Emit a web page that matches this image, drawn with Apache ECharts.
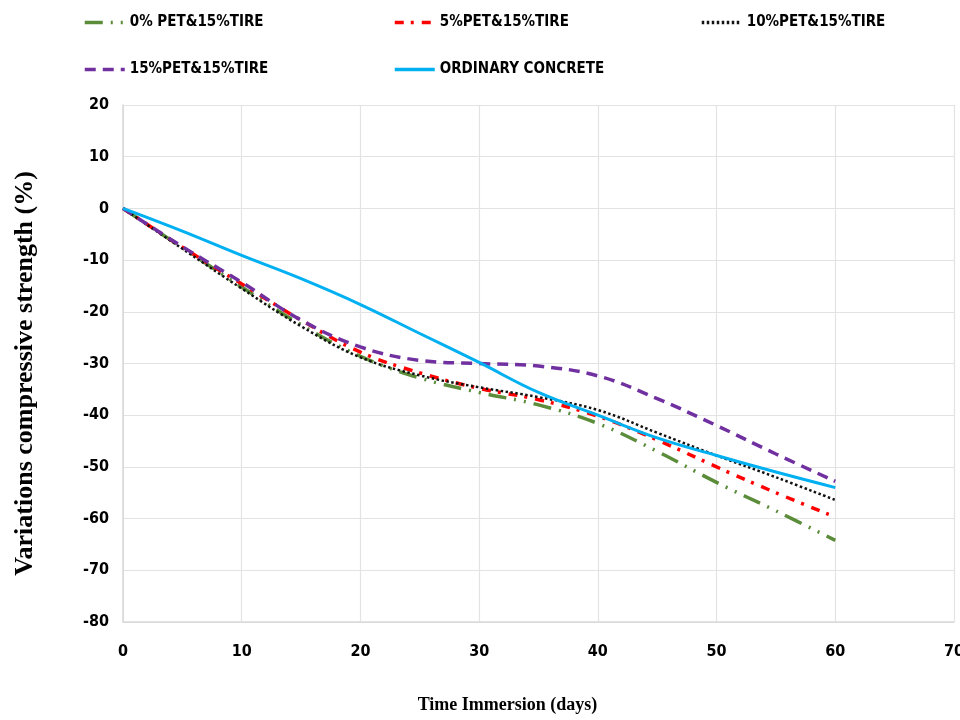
<!DOCTYPE html>
<html><head><meta charset="utf-8">
<script src="https://cdn.jsdelivr.net/npm/echarts@6/dist/echarts.min.js"></script>
<style>html,body{margin:0;padding:0;background:#fff}#c{width:960px;height:720px}</style>
</head><body><div id="c"></div>
<script>
const days = [0, 5, 10, 15, 20, 25, 30, 35, 40, 45, 50, 55, 60];
const pet0  = [0, -7.6, -15.2, -22.5, -28.6, -32.8, -35.6, -38.0, -41.6, -47.0, -53.0, -58.5, -64.2];
const pet5  = [0, -7.5, -14.6, -21.6, -27.8, -31.8, -34.8, -37.0, -40.2, -44.8, -50.0, -55.0, -59.7];
const pet10 = [0, -7.8, -15.5, -22.8, -28.8, -32.3, -34.6, -36.5, -39.0, -43.4, -47.8, -52.0, -56.4];
const pet15 = [0, -7.4, -14.3, -21.6, -26.8, -29.4, -30.0, -30.5, -32.4, -36.8, -42.0, -47.5, -52.8];
const ordinary = [0, -4.4, -9.1, -13.6, -18.6, -24.2, -29.8, -35.6, -40.0, -44.4, -47.8, -51.0, -54.0];
const names = ['0% PET&15%TIRE', '5%PET&15%TIRE', '10%PET&15%TIRE', '15%PET&15%TIRE', 'ORDINARY CONCRETE'];
const xTicks = [0, 10, 20, 30, 40, 50, 60, 70];
const yTicks = [-80, -70, -60, -50, -40, -30, -20, -10, 0, 10, 20];

const lab = {fontFamily: 'DejaVu Sans Condensed, sans-serif', fontWeight: 'bold', fontSize: 16, color: '#000'};
function mk(name, data, color, type, width) {
  return {
    name: name, type: 'line', smooth: 0.4, symbol: 'none',
    data: days.map((d, i) => [d, data[i]]),
    lineStyle: {color: color, width: width, type: type},
    itemStyle: {color: color}
  };
}
const chart = echarts.init(document.getElementById('c'), null, {renderer: 'canvas'});
const legendBase = {itemWidth: 40, itemHeight: 10, itemGap: 8, textStyle: Object.assign({}, lab, {fontSize: 15}), itemStyle: {opacity: 0}, lineStyle: {width: 3.5}};
chart.setOption({
  animation: false,
  backgroundColor: '#fff',
  legend: [
    Object.assign({}, legendBase, {data: [names[0]], left: 78, top: 10}),
    Object.assign({}, legendBase, {data: [names[1]], left: 388, top: 10}),
    Object.assign({}, legendBase, {data: [names[2]], left: 695, top: 10}),
    Object.assign({}, legendBase, {data: [names[3]], left: 78, top: 57}),
    Object.assign({}, legendBase, {data: [names[4]], left: 388, top: 57})
  ],
  grid: {left: 123, right: 6, top: 105, bottom: 98, outerBoundsMode: 'none', containLabel: false},
  xAxis: {
    type: 'value', min: 0, max: 70, interval: 10,
    name: 'Time Immersion (days)', nameLocation: 'middle', nameGap: 74,
    nameTextStyle: {fontFamily: 'Liberation Serif, Times New Roman, serif', fontWeight: 'bold', fontSize: 18, color: '#000', padding: [0, 62, 0, 0]},
    axisLine: {show: true, onZero: false, lineStyle: {color: '#d9d9d9', width: 1.5}},
    axisTick: {show: false},
    axisLabel: Object.assign({}, lab, {margin: 22, formatter: v => xTicks.includes(v) ? String(v) : ''}),
    splitLine: {show: true, lineStyle: {color: '#e3e3e3', width: 1.2}}
  },
  yAxis: {
    type: 'value', min: -80, max: 20, interval: 10,
    name: 'Variations compressive strength (%)', nameLocation: 'middle', nameGap: 85,
    nameTextStyle: {fontFamily: 'Liberation Serif, Times New Roman, serif', fontWeight: 'bold', fontSize: 26, color: '#000', padding: [0, 20, 0, 0]},
    axisLine: {show: true, onZero: false, lineStyle: {color: '#d9d9d9', width: 1.5}},
    axisTick: {show: false},
    axisLabel: Object.assign({}, lab, {margin: 14, formatter: v => yTicks.includes(v) ? String(v) : ''}),
    splitLine: {show: true, lineStyle: {color: '#e3e3e3', width: 1.2}}
  },
  series: [
    mk(names[0], pet0, '#5b8c3a', [18, 8, 2, 8, 2, 8], 3.5),
    mk(names[1], pet5, '#ff0000', [9, 7, 3, 8], 3.5),
    mk(names[2], pet10, '#111111', [2.5, 2.5], 2.5),
    mk(names[3], pet15, '#7030a0', [11, 7], 3.5),
    mk(names[4], ordinary, '#00b0f0', 'solid', 3)
  ]
});
</script></body></html>
